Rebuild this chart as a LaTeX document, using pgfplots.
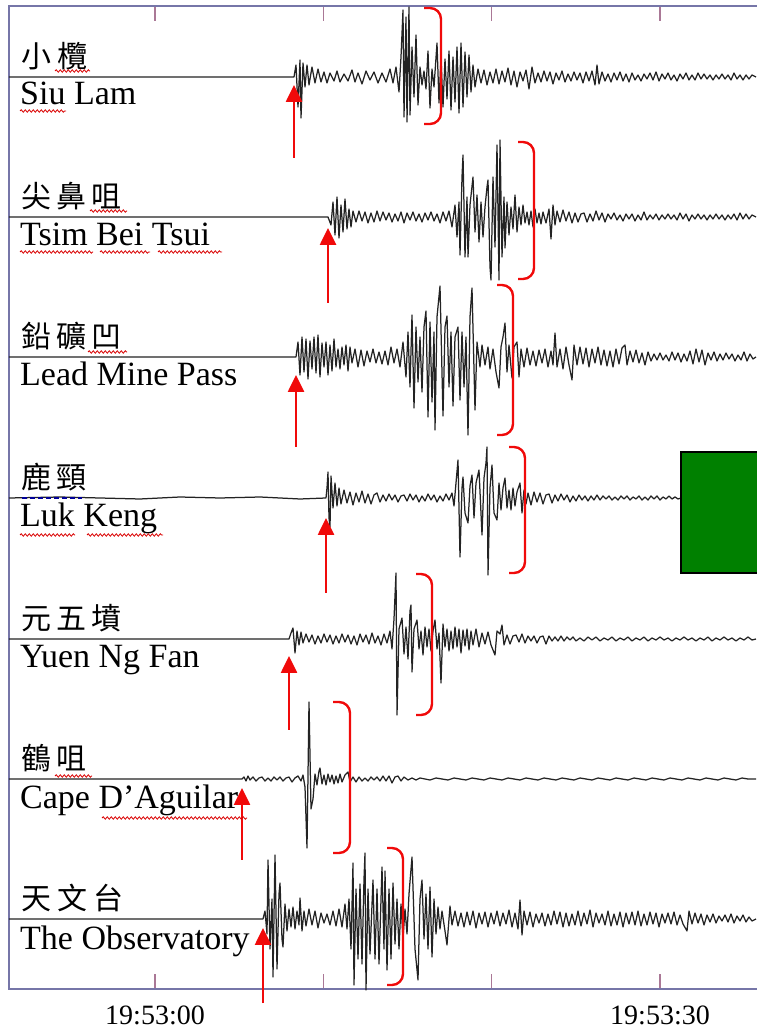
\documentclass[border=0pt]{standalone}
\usepackage{pgfplots}
\pgfplotsset{compat=1.18}
\usepackage{pgfplotstable}
\usepackage{fontspec}
\setmainfont{Liberation Serif}
\newfontfamily\cjk{Noto Sans CJK TC}
\usetikzlibrary{arrows.meta,decorations.pathmorphing}
\definecolor{framecol}{RGB}{118,118,168}
\definecolor{tickcol}{RGB}{170,120,150}
\definecolor{boxgreen}{RGB}{0,128,0}
\definecolor{tracecol}{RGB}{35,35,35}
\definecolor{markred}{RGB}{240,10,10}

% x = horizontal position (px, 16.83 px per second, 155 = 19:53:00), a = trace amplitude (px)
\pgfplotstableread[row sep=\\]{x a\\
9 0\\294 0\\296 12\\298 -30\\300 17\\301 -41\\303 14\\305 -10\\307 12\\309 -8\\312 10\\315 -6\\318 8\\321 -5\\324 5\\327 -6\\330 4\\334 -4\\337 6\\340 -5\\344 3\\348 -4\\352 7\\355 -5\\358 4\\362 -7\\366 6\\370 -3\\374 5\\378 -6\\382 4\\386 -5\\390 8\\393 -6\\396 10\\399 -15\\401 20\\403 67\\404 -40\\406 60\\407 -45\\409 70\\410 -38\\412 30\\414 -20\\416 42\\418 -28\\420 10\\422 -8\\424 6\\426 -12\\428 26\\430 -31\\432 8\\434 -10\\437 34\\439 -26\\441 20\\443 -30\\445 18\\447 -22\\449 26\\451 -33\\453 20\\455 -25\\457 30\\459 -36\\461 34\\463 -30\\465 25\\467 -20\\469 22\\471 -15\\473 12\\475 -10\\478 8\\481 -6\\484 7\\487 -8\\490 5\\493 -6\\496 8\\499 -7\\502 6\\505 -5\\508 9\\511 -8\\514 6\\517 -10\\520 5\\523 -4\\526 7\\529 -12\\532 10\\535 -6\\538 4\\541 -5\\544 6\\547 -4\\550 5\\553 -7\\556 4\\559 -3\\562 6\\565 -5\\568 3\\571 -4\\574 5\\577 -3\\580 4\\583 -6\\586 5\\589 -4\\592 6\\595 -8\\597 12\\599 -7\\602 5\\605 -4\\608 3\\611 -5\\614 4\\617 -3\\620 5\\623 -4\\626 3\\629 -5\\632 4\\635 -3\\638 2\\641 -4\\644 3\\647 -2\\650 4\\653 -3\\656 5\\659 -4\\662 3\\665 -2\\668 4\\671 -3\\674 2\\677 -4\\680 3\\683 -2\\686 4\\689 -3\\692 2\\695 -3\\698 4\\701 -2\\704 3\\707 -2\\710 2\\713 -3\\716 2\\719 -2\\722 3\\725 -2\\728 2\\731 -3\\734 4\\737 -2\\740 2\\743 -3\\746 2\\749 -2\\752 2\\756 0\\
}\tA
\pgfplotstableread[row sep=\\]{x a\\
9 0\\328 0\\331 -8\\333 15\\335 -18\\337 20\\339 -21\\341 12\\343 -15\\345 18\\347 -12\\349 8\\351 -10\\353 6\\356 -5\\359 6\\362 -4\\365 5\\368 -6\\371 4\\374 -5\\377 6\\380 -4\\383 5\\386 -3\\389 4\\392 -5\\395 3\\398 -4\\401 5\\404 -6\\407 4\\410 -3\\413 5\\416 -4\\419 3\\422 -5\\425 4\\428 -3\\431 5\\434 -4\\437 3\\440 -6\\443 5\\446 -4\\449 6\\452 -10\\455 12\\457 -20\\459 15\\460 -38\\462 40\\463 62\\465 -40\\467 20\\468 -40\\470 12\\473 40\\475 -15\\477 22\\479 -25\\481 15\\483 -20\\485 10\\487 30\\488 37\\490 -50\\491 -63\\493 40\\495 -30\\497 72\\499 -63\\500 77\\502 -40\\504 20\\505 -31\\507 15\\509 -18\\511 10\\513 -12\\515 22\\517 -15\\519 10\\521 -8\\523 12\\525 -6\\527 5\\529 -8\\531 6\\533 -10\\535 8\\537 -6\\539 4\\541 -7\\543 5\\546 -6\\549 8\\551 -22\\553 12\\555 -8\\557 6\\560 -5\\563 7\\566 -4\\569 5\\572 -6\\575 4\\578 -5\\581 3\\584 4\\587 -5\\590 3\\593 -4\\596 6\\599 -3\\602 4\\605 -5\\608 3\\611 -2\\614 4\\617 -3\\620 2\\623 -4\\626 3\\629 -2\\632 3\\635 -4\\638 2\\641 -3\\644 5\\647 -3\\650 2\\653 -2\\656 3\\659 -3\\662 2\\665 -2\\668 3\\671 -2\\674 2\\677 -3\\680 4\\683 -2\\686 3\\689 -4\\692 2\\695 -2\\698 3\\701 -2\\704 2\\707 -3\\710 2\\713 -2\\716 3\\719 -2\\722 2\\725 -3\\728 2\\731 -2\\734 3\\737 -3\\740 4\\743 -2\\746 3\\749 -2\\752 2\\756 0\\
}\tB
\pgfplotstableread[row sep=\\]{x a\\
9 0\\296 0\\298 15\\300 -18\\302 20\\304 -15\\306 18\\308 -22\\310 16\\312 -12\\314 20\\316 -16\\318 22\\320 -20\\322 14\\324 -10\\326 15\\328 -18\\330 12\\332 -14\\334 18\\336 -10\\338 8\\340 -12\\342 10\\344 -8\\346 12\\348 -14\\350 10\\352 -6\\355 8\\358 -10\\361 7\\364 -9\\367 6\\370 -5\\373 8\\376 -6\\379 5\\382 -7\\385 6\\388 -8\\391 10\\394 -6\\397 8\\400 -10\\403 15\\406 -20\\408 25\\410 -30\\412 42\\414 -51\\416 30\\418 -25\\420 20\\422 -35\\424 30\\426 46\\428 -60\\430 35\\432 -45\\434 25\\435 -73\\437 40\\440 71\\443 -59\\445 30\\447 41\\449 -30\\451 25\\453 -49\\455 20\\458 30\\460 -43\\462 25\\464 -30\\466 20\\468 -78\\470 40\\472 69\\475 -53\\477 15\\480 -10\\482 12\\485 -8\\488 10\\490 -12\\493 8\\496 -15\\499 -31\\501 10\\503 20\\505 34\\507 -15\\509 12\\512 -21\\514 10\\517 15\\519 -20\\521 8\\524 -10\\527 9\\530 -8\\533 6\\536 -9\\539 7\\542 -6\\545 8\\548 -10\\551 6\\553 -8\\555 24\\557 -10\\560 8\\563 -12\\566 10\\569 -8\\572 -23\\574 12\\577 -8\\580 10\\583 -7\\586 9\\589 -10\\592 8\\595 -6\\598 10\\601 -8\\604 7\\607 -9\\610 6\\613 -10\\616 8\\619 -7\\622 9\\625 12\\627 -8\\630 6\\633 -5\\636 7\\639 -6\\642 4\\645 -8\\648 5\\651 -4\\654 3\\657 -3\\660 4\\663 -3\\666 2\\669 -4\\672 5\\675 -3\\678 4\\681 -5\\684 3\\687 -4\\690 6\\693 -7\\696 8\\699 -5\\702 7\\705 -8\\708 4\\711 -3\\714 5\\717 -4\\720 3\\723 -3\\726 4\\729 -2\\732 3\\735 -4\\738 2\\741 -3\\744 5\\747 -4\\750 3\\753 -2\\756 0\\
}\tC
\pgfplotstableread[row sep=\\]{x a\\
9 0\\60 1\\100 0\\140 -1\\180 1\\220 0\\260 1\\300 -1\\326 0\\327 10\\328 26\\329 -20\\330 -29\\331 22\\333 -10\\335 15\\337 -8\\339 10\\341 -6\\344 8\\347 -5\\350 6\\353 -7\\356 5\\359 -4\\362 7\\365 -5\\368 4\\371 -6\\374 3\\377 5\\380 -4\\383 3\\386 -3\\389 4\\392 -2\\395 3\\398 -4\\401 2\\404 3\\407 -3\\410 4\\413 -2\\416 3\\419 -4\\422 2\\425 -3\\428 4\\431 -2\\434 3\\437 -4\\440 2\\443 -3\\446 4\\449 -2\\452 5\\454 -8\\456 15\\458 38\\460 -59\\462 10\\463 21\\465 -15\\468 -25\\470 12\\472 23\\474 -20\\476 15\\479 28\\482 -37\\484 20\\486 35\\487 51\\488 -77\\490 10\\492 33\\494 -15\\497 -22\\499 15\\501 -12\\503 10\\505 20\\507 -10\\509 8\\511 -12\\513 10\\515 -8\\517 6\\520 15\\522 -15\\524 8\\526 -6\\528 5\\531 -7\\534 6\\537 -4\\540 5\\543 -6\\546 3\\549 4\\552 -5\\555 3\\558 -3\\561 4\\564 -2\\567 3\\570 -4\\573 2\\576 -3\\579 3\\582 -2\\585 2\\588 -3\\591 2\\594 -2\\597 3\\600 -2\\603 2\\606 -1\\609 2\\612 -2\\615 1\\618 -2\\621 2\\624 -1\\627 2\\630 -2\\633 1\\636 -1\\639 2\\642 -2\\645 1\\648 -2\\651 2\\654 -1\\657 2\\660 -2\\663 1\\666 -1\\669 2\\672 -1\\675 1\\678 -1\\681 0\\756 0\\
}\tD
\pgfplotstableread[row sep=\\]{x a\\
9 0\\289 0\\291 6\\293 11\\295 -14\\297 8\\299 -6\\301 7\\303 -4\\306 5\\309 -3\\312 4\\315 -5\\318 3\\321 -4\\324 5\\327 -3\\330 4\\333 -5\\336 3\\339 -4\\342 5\\345 -3\\348 4\\351 -5\\354 3\\357 -6\\360 5\\363 -3\\366 4\\369 -5\\372 6\\375 -4\\378 3\\381 -6\\384 5\\387 -4\\390 8\\392 -10\\394 20\\396 66\\397 -76\\399 10\\402 21\\404 -15\\406 12\\408 -20\\410 28\\411 34\\412 -33\\414 10\\417 19\\419 -10\\421 8\\423 -16\\425 12\\427 -8\\429 10\\431 -12\\433 8\\435 19\\437 -10\\439 6\\441 -44\\443 15\\445 -8\\447 10\\449 -12\\451 8\\453 -10\\455 12\\457 -8\\459 10\\461 -14\\463 9\\465 -7\\467 10\\469 -11\\471 8\\473 -6\\476 10\\479 -8\\482 6\\485 -5\\488 7\\491 -6\\495 -16\\497 8\\500 5\\502 14\\504 -6\\507 4\\510 -5\\513 3\\516 4\\519 -3\\522 5\\525 -4\\528 3\\531 -2\\534 3\\537 -4\\540 2\\543 3\\546 -5\\549 3\\552 -2\\555 2\\558 -2\\561 3\\564 -2\\567 2\\570 -1\\573 2\\576 -2\\580 1\\584 -2\\588 2\\592 -1\\596 2\\600 -2\\604 1\\608 -1\\612 2\\616 -2\\620 1\\624 -1\\628 2\\632 -2\\636 1\\640 -1\\644 2\\648 -2\\652 1\\656 -1\\660 2\\664 -1\\668 1\\672 -2\\676 1\\680 -1\\684 2\\688 -1\\692 1\\696 -2\\700 1\\704 -1\\708 2\\712 -2\\716 1\\720 -1\\724 2\\728 -1\\732 1\\736 -2\\740 1\\744 -1\\748 2\\752 -1\\756 0\\
}\tE
\pgfplotstableread[row sep=\\]{x a\\
9 0\\242 0\\244 2\\246 -2\\248 3\\250 -1\\253 2\\256 -2\\259 1\\262 2\\265 -2\\268 1\\271 -2\\274 2\\277 -1\\280 2\\283 -2\\286 1\\289 2\\292 -3\\295 1\\298 3\\301 -2\\303 4\\305 -8\\307 -69\\309 77\\311 -30\\313 -20\\315 5\\317 -6\\319 8\\320 11\\322 -5\\324 4\\326 -6\\328 5\\330 -3\\332 4\\334 -5\\336 3\\338 -4\\340 5\\342 -3\\345 4\\348 7\\350 -3\\353 2\\356 -3\\359 2\\362 -2\\365 1\\368 -2\\371 2\\374 -1\\377 2\\380 -2\\383 3\\386 -2\\389 3\\392 -4\\395 2\\398 3\\401 -2\\404 2\\408 -1\\412 1\\416 -1\\420 1\\425 0\\430 -1\\436 1\\442 0\\448 -1\\454 1\\460 0\\466 -1\\472 1\\478 0\\484 -1\\490 1\\496 0\\502 -1\\508 1\\514 0\\520 -1\\526 1\\532 0\\538 -1\\544 1\\550 0\\556 -1\\562 1\\568 0\\574 -1\\580 1\\586 0\\592 -1\\598 1\\604 0\\610 -1\\616 1\\622 0\\628 -1\\634 1\\640 0\\646 -1\\652 1\\658 0\\664 -1\\670 1\\676 0\\682 -1\\688 1\\694 0\\700 -1\\706 1\\712 0\\718 -1\\724 1\\730 0\\736 -1\\742 1\\748 0\\756 0\\
}\tF
\pgfplotstableread[row sep=\\]{x a\\
9 0\\263 0\\265 8\\267 -15\\268 59\\270 -30\\272 20\\273 -58\\275 64\\277 -50\\279 25\\280 36\\282 -20\\283 -28\\285 15\\287 -12\\289 10\\291 -8\\293 12\\295 -10\\297 8\\299 -6\\300 21\\302 -12\\304 8\\306 -7\\309 10\\312 -6\\315 8\\318 -9\\321 6\\324 -4\\327 5\\330 -6\\333 8\\336 -7\\339 10\\342 -8\\345 15\\347 -10\\349 20\\351 -30\\353 56\\354 -66\\356 30\\358 -40\\360 35\\362 -45\\364 40\\365 66\\366 -71\\368 30\\370 -35\\373 39\\375 -40\\377 30\\379 -45\\382 52\\384 -30\\385 48\\387 -51\\389 30\\391 -40\\393 36\\395 -25\\397 20\\399 -30\\401 15\\403 -20\\405 10\\407 -15\\409 25\\412 62\\415 -30\\418 -61\\420 20\\422 39\\424 -20\\426 25\\428 -30\\430 32\\432 -38\\434 20\\436 -15\\438 12\\440 -10\\442 8\\445 -12\\447 -26\\450 13\\452 -6\\455 8\\458 -7\\461 6\\464 -8\\467 7\\470 -6\\473 8\\476 -9\\479 6\\482 -5\\485 7\\488 -8\\491 6\\494 -5\\497 8\\500 -7\\503 6\\506 -5\\509 9\\512 -8\\515 6\\518 -10\\520 19\\522 -16\\524 8\\527 -6\\530 7\\533 -8\\536 5\\539 -4\\542 6\\545 -7\\548 5\\551 -6\\554 8\\557 -5\\560 7\\563 -8\\566 6\\569 -7\\572 5\\575 -6\\578 8\\581 -7\\584 6\\587 -5\\590 9\\593 -8\\596 6\\599 -4\\602 5\\605 -6\\608 8\\611 -7\\614 5\\617 -6\\620 7\\623 -8\\626 6\\629 -5\\632 7\\635 -6\\638 8\\641 -7\\644 5\\647 -6\\650 7\\653 -5\\656 6\\659 -8\\662 5\\665 -4\\668 6\\671 -5\\674 7\\677 -6\\680 4\\683 -5\\687 -12\\689 8\\692 -5\\695 6\\698 -4\\701 5\\704 -6\\707 4\\710 -3\\713 5\\716 -4\\719 3\\722 -2\\725 4\\728 -3\\731 5\\734 -4\\737 3\\740 -2\\743 4\\746 -3\\749 2\\752 -2\\756 0\\
}\tG

\begin{document}
\begin{tikzpicture}[
  wavy/.style={red!85!black, line width=0.8pt, decorate, decoration={snake, amplitude=1.2pt, segment length=4pt}},
]
\begin{axis}[
  x=1pt, y=1pt,
  xmin=9, xmax=764, ymin=-989, ymax=-6,
  clip=false,
  axis line style={framecol, line width=1.6pt},
  ytick=\empty,
  xtick={155,323.3,491.7,660},
  xticklabels={19:53:00,,,19:53:30},
  tick align=inside,
  major tick length=15pt,
  x tick style={tickcol, line width=1.3pt},
  xticklabel style={font=\fontsize{28}{32}\selectfont, yshift=-13pt},
  trace/.style={tracecol, line width=1.25pt, line join=round},
]
\addplot[trace] table[x=x, y expr=\thisrow{a}-77] {\tA};
\addplot[trace] table[x=x, y expr=\thisrow{a}-217] {\tB};
\addplot[trace] table[x=x, y expr=\thisrow{a}-357] {\tC};
\addplot[trace] table[x=x, y expr=\thisrow{a}-498] {\tD};
\addplot[trace] table[x=x, y expr=\thisrow{a}-639] {\tE};
\addplot[trace] table[x=x, y expr=\thisrow{a}-779] {\tF};
\addplot[trace] table[x=x, y expr=\thisrow{a}-919] {\tG};

% green box
\fill[boxgreen] (axis cs:681,-452) rectangle (axis cs:760,-573);
\draw[black, line width=2pt] (axis cs:760,-452) -- (axis cs:681,-452) -- (axis cs:681,-573) -- (axis cs:760,-573);

% onset arrows
\begin{scope}[markred, line width=2.6pt, -{Triangle[length=17pt,width=16pt]}]
\draw (axis cs:294,-158) -- (axis cs:294,-85);
\draw (axis cs:328,-303) -- (axis cs:328,-228);
\draw (axis cs:296,-447) -- (axis cs:296,-375);
\draw (axis cs:326,-593) -- (axis cs:326,-518);
\draw (axis cs:289,-730) -- (axis cs:289,-656);
\draw (axis cs:242,-860) -- (axis cs:242,-788);
\draw (axis cs:263,-1003) -- (axis cs:263,-928);
\end{scope}

% brackets
\begin{scope}[markred, line width=2.4pt, rounded corners=11pt]
\draw (axis cs:424,-8) -- (axis cs:441,-8) -- (axis cs:441,-124) -- (axis cs:424,-124);
\draw (axis cs:518,-142) -- (axis cs:534,-142) -- (axis cs:534,-279) -- (axis cs:518,-279);
\draw (axis cs:497,-285) -- (axis cs:513,-285) -- (axis cs:513,-435) -- (axis cs:497,-435);
\draw (axis cs:509,-447) -- (axis cs:525,-447) -- (axis cs:525,-573) -- (axis cs:509,-573);
\draw (axis cs:416,-574) -- (axis cs:432,-574) -- (axis cs:432,-715) -- (axis cs:416,-715);
\draw (axis cs:333,-702) -- (axis cs:350,-702) -- (axis cs:350,-853) -- (axis cs:333,-853);
\draw (axis cs:387,-848) -- (axis cs:403,-848) -- (axis cs:403,-985) -- (axis cs:387,-985);
\end{scope}

% Chinese labels
\begin{scope}[every node/.style={anchor=base west, inner sep=0pt, font=\cjk\fontsize{30}{33}\selectfont}]
\node at (axis cs:21,-68) {小\hspace{6pt}欖};
\node at (axis cs:21,-208) {尖\hspace{5pt}鼻\hspace{5pt}咀};
\node at (axis cs:21,-348) {鉛\hspace{5pt}礦\hspace{5pt}凹};
\node at (axis cs:21,-489) {鹿\hspace{5pt}頸};
\node at (axis cs:21,-630) {元\hspace{5pt}五\hspace{5pt}墳};
\node at (axis cs:21,-770) {鶴\hspace{5pt}咀};
\node at (axis cs:21,-910) {天\hspace{6pt}文\hspace{6pt}台};
\end{scope}

% English labels
\begin{scope}[every node/.style={anchor=base west, inner sep=0pt, font=\fontsize{34}{40}\selectfont}]
\node at (axis cs:20,-105) {Siu Lam};
\node at (axis cs:20,-246) {Tsim Bei Tsui};
\node at (axis cs:20,-386) {Lead Mine Pass};
\node at (axis cs:20,-527) {Luk Keng};
\node at (axis cs:20,-668) {Yuen Ng Fan};
\node at (axis cs:20,-809) {Cape D’Aguilar};
\node at (axis cs:20,-949) {The Observatory};
\end{scope}

% spell-check underlines
\draw[wavy] (axis cs:55,-71) -- (axis cs:90,-71);
\draw[wavy] (axis cs:20,-111) -- (axis cs:66,-111);
\draw[wavy] (axis cs:90,-211) -- (axis cs:127,-211);
\draw[wavy] (axis cs:20,-252) -- (axis cs:93,-252);
\draw[wavy] (axis cs:100,-252) -- (axis cs:150,-252);
\draw[wavy] (axis cs:158,-252) -- (axis cs:222,-252);
\draw[wavy] (axis cs:88,-352) -- (axis cs:127,-352);
\draw[wavy] (axis cs:20,-535) -- (axis cs:75,-535);
\draw[wavy] (axis cs:87,-535) -- (axis cs:163,-535);
\draw[wavy] (axis cs:55,-776) -- (axis cs:92,-776);
\draw[wavy] (axis cs:102,-818) -- (axis cs:247,-818);
\draw[blue!60!black, line width=1.5pt, dash pattern=on 5pt off 3pt] (axis cs:22,-498) -- (axis cs:82,-498);
\end{axis}
\pgfresetboundingbox
\useasboundingbox (-9pt,-47pt) rectangle (747pt,989pt);
\end{tikzpicture}
\end{document}
